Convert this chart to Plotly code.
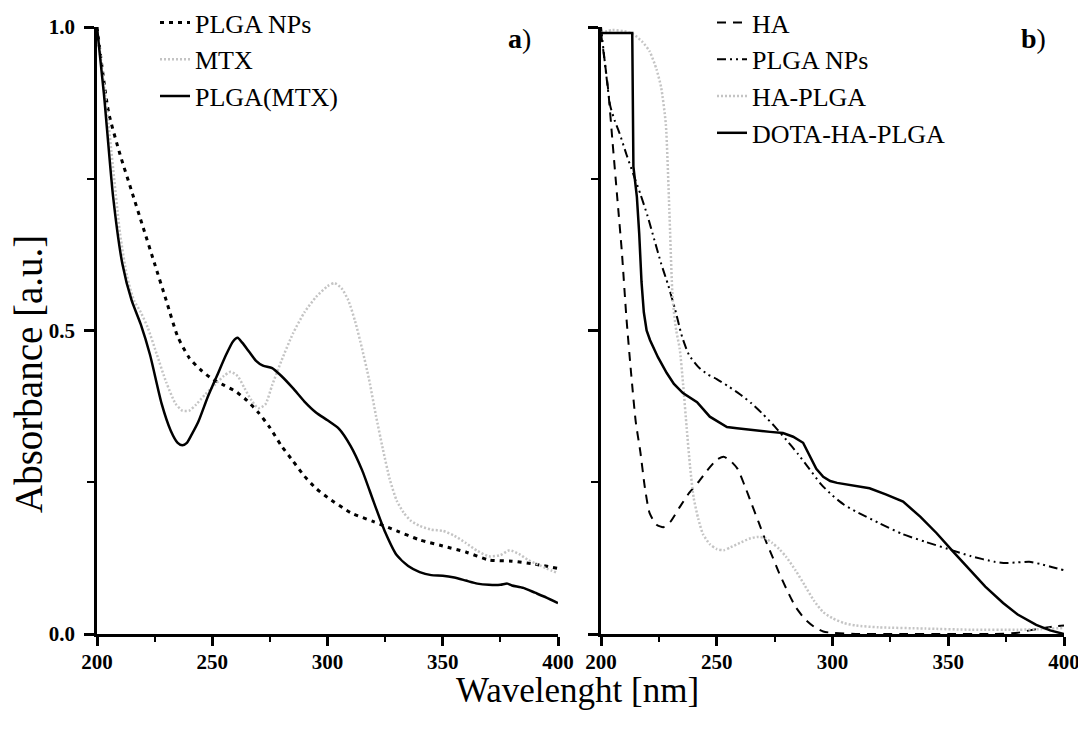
import plotly.graph_objects as go

# ---------------- Panel a data ----------------
a_plga_x = [200, 205, 210, 215, 220, 225, 230, 235, 240, 245, 250, 255, 260, 265, 270, 275, 280, 285,
            290, 295, 300, 310, 320, 330, 340, 350, 360, 370, 380, 390, 400]
a_plga_y = [1.0, 0.86, 0.79, 0.73, 0.67, 0.61, 0.55, 0.49, 0.455, 0.435, 0.42, 0.41, 0.40, 0.385, 0.365,
            0.34, 0.31, 0.285, 0.26, 0.24, 0.225, 0.20, 0.185, 0.17, 0.155, 0.145, 0.135, 0.122, 0.12,
            0.115, 0.108]

a_mtx_x = [200, 205, 210, 213, 216, 219, 222, 226, 230, 234, 237, 240, 243, 247, 251, 255, 258, 261, 264,
           267, 270, 273, 276, 280, 285, 290, 295, 300, 303, 306, 309, 312, 315, 318, 321, 324, 327, 330,
           333, 336, 340, 345, 350, 355, 360, 365, 370, 375, 379, 383, 387, 391, 395, 400]
a_mtx_y = [1.0, 0.84, 0.66, 0.59, 0.55, 0.53, 0.505, 0.46, 0.415, 0.38, 0.368, 0.368, 0.378, 0.395, 0.41,
           0.425, 0.432, 0.425, 0.405, 0.385, 0.372, 0.378, 0.41, 0.45, 0.495, 0.53, 0.555, 0.573, 0.578,
           0.57, 0.55, 0.515, 0.47, 0.42, 0.36, 0.305, 0.255, 0.22, 0.2, 0.187, 0.178, 0.172, 0.17, 0.162,
           0.15, 0.137, 0.128, 0.13, 0.138, 0.132, 0.122, 0.115, 0.108, 0.10]

a_plgamtx_x = [200, 203, 207, 211, 215, 219, 223, 228, 232, 235, 237, 239, 241, 244, 248, 252, 256, 259,
               261, 263, 266, 269, 272, 276, 280, 285, 290, 295, 300, 305, 310, 315, 320, 325, 330, 335,
               340, 345, 350, 355, 360, 365, 370, 375, 378, 380, 385, 390, 395, 400]
a_plgamtx_y = [1.0, 0.89, 0.72, 0.61, 0.55, 0.51, 0.46, 0.38, 0.335, 0.315, 0.311, 0.315, 0.328, 0.35,
               0.39, 0.425, 0.46, 0.482, 0.488, 0.48, 0.465, 0.45, 0.442, 0.438, 0.425, 0.405, 0.383,
               0.365, 0.352, 0.338, 0.31, 0.27, 0.218, 0.168, 0.13, 0.112, 0.102, 0.097, 0.096, 0.093,
               0.088, 0.083, 0.081, 0.081, 0.083, 0.08, 0.076, 0.068, 0.06, 0.051]

# ---------------- Panel b data ----------------
b_ha_x = [200, 203, 205, 207, 209, 211, 213, 215, 217, 219, 221, 224, 227, 230, 234, 238, 242, 246, 250,
          253, 256, 259, 262, 265, 268, 271, 274, 277, 280, 284, 288, 292, 296, 300, 310, 330, 350, 370,
          380, 385, 390, 395, 400]
b_ha_y = [0.99, 0.9, 0.81, 0.72, 0.63, 0.52, 0.43, 0.35, 0.3, 0.24, 0.199, 0.18, 0.176, 0.185, 0.209,
          0.232, 0.25, 0.27, 0.287, 0.292, 0.285, 0.272, 0.245, 0.215, 0.185, 0.155, 0.128, 0.1, 0.075,
          0.045, 0.025, 0.012, 0.004, 0.002, 0.0, 0.0, 0.0, 0.0, 0.002, 0.006, 0.009, 0.012, 0.014]

b_plga_x = [200, 202, 204, 206, 208, 211, 214, 217, 220, 223, 226, 229, 232, 235, 238, 242, 246, 250,
            255, 260, 265, 270, 275, 280, 285, 290, 295, 300, 305, 310, 320, 330, 340, 350, 360, 370,
            375, 380, 385, 390, 395, 400]
b_plga_y = [1.0, 0.93, 0.87, 0.845, 0.825, 0.79, 0.757, 0.725, 0.69, 0.65, 0.61, 0.575, 0.535, 0.49,
            0.46, 0.44, 0.428, 0.42, 0.408, 0.395, 0.38, 0.362, 0.342, 0.32, 0.297, 0.272, 0.247, 0.228,
            0.213, 0.202, 0.183, 0.165, 0.152, 0.14, 0.128, 0.119, 0.117, 0.118, 0.119, 0.115, 0.11,
            0.105]

b_haplga_x = [200, 205, 210, 214, 218, 221, 224, 226, 228, 229.5, 231, 232.5, 234, 235.5, 237, 238.5,
              240, 242, 244, 247, 250, 253, 256, 260, 264, 268, 271, 274, 277, 280, 284, 288, 292, 296,
              300, 305, 310, 320, 340, 360, 380, 390, 400]
b_haplga_y = [0.99, 0.995, 0.993, 0.988, 0.975, 0.96, 0.93, 0.9, 0.84, 0.7, 0.55, 0.5, 0.47, 0.41, 0.34,
              0.275, 0.225, 0.19, 0.165, 0.148, 0.14, 0.138, 0.143, 0.15, 0.157, 0.16, 0.158, 0.15, 0.14,
              0.127, 0.105, 0.08, 0.055, 0.036, 0.026, 0.018, 0.014, 0.011, 0.009, 0.007, 0.007, 0.008,
              0.01]

b_dota_x = [200, 205, 210, 213.5, 214, 215.5, 216.5, 217.5, 218.5, 219.7, 221.2, 224.6, 228.4, 231.5,
            235.4, 241.5, 247, 251.4, 254.4, 258.7, 265, 273, 278.6, 283, 287.3, 290, 293, 296, 299,
            302, 309, 316, 323, 330.5, 338, 345, 352, 359.4, 366, 373.7, 380, 388, 394, 400]
b_dota_y = [0.99, 0.99, 0.99, 0.99, 0.77, 0.72, 0.66, 0.58, 0.53, 0.5, 0.484, 0.456, 0.43, 0.412,
            0.397, 0.382, 0.358, 0.348, 0.341, 0.339, 0.336, 0.333, 0.331, 0.325, 0.315, 0.295, 0.272,
            0.259, 0.252, 0.249, 0.245, 0.24, 0.23, 0.218, 0.193, 0.166, 0.136, 0.105, 0.078, 0.051,
            0.032, 0.015, 0.006, 0.0]

x_ticks = [200, 250, 300, 350, 400]
y_ticks = [0.0, 0.5, 1.0]
y_tick_text = ["0.0", "0.5", "1.0"]

FONT = "Liberation Serif, Times New Roman, serif"
GRAY = "#c4c4c4"

# page body has an 8px margin, so the figure is drawn 8px in from the window edge
OFF = 8
W, H = 1086 - OFF, 735 - 2 * OFF


def px(x):
    return (x - OFF) / W


def py(y):
    return 1 - (y - OFF) / H


fig = go.Figure()


def add(x, y, name, color, dash, width, xa, ya, legend, shape="spline"):
    fig.add_trace(go.Scatter(
        x=x, y=y, name=name, mode="lines",
        line=dict(color=color, dash=dash, width=width, shape=shape, smoothing=0.6),
        xaxis=xa, yaxis=ya, legend=legend))


add(a_plga_x, a_plga_y, "PLGA NPs", "black", "4px,5px", 3, "x", "y", "legend")
add(a_mtx_x, a_mtx_y, "MTX", GRAY, "2px,2px", 2.5, "x", "y", "legend")
add(a_plgamtx_x, a_plgamtx_y, "PLGA(MTX)", "black", "solid", 2.5, "x", "y", "legend")

add(b_ha_x, b_ha_y, "HA", "black", "9px,7px", 2, "x2", "y2", "legend2")
add(b_plga_x, b_plga_y, "PLGA NPs", "black", "9px,4px,2px,4px,2px,4px", 2, "x2", "y2", "legend2")
add(b_haplga_x, b_haplga_y, "HA-PLGA", GRAY, "2px,2px", 2.5, "x2", "y2", "legend2")
add(b_dota_x, b_dota_y, "DOTA-HA-PLGA", "black", "solid", 2.5, "x2", "y2", "legend2", shape="linear")

xdom_a = [px(97), px(558)]
xdom_b = [px(601), px(1064)]
ydom = [py(634), py(27)]

xaxis_common = dict(
    range=[200, 400], tickvals=x_ticks, ticks="outside", ticklen=9, tickwidth=2.5,
    tickcolor="black", showline=True, linecolor="black", linewidth=2.5,
    showgrid=False, zeroline=False, automargin=False, ticklabeloverflow="allow",
    tickfont=dict(family=FONT, size=21, color="black", weight="bold"),
    ticklabelstandoff=-2,
    minor=dict(dtick=25, tick0=200, ticks="outside", ticklen=5, tickwidth=2, tickcolor="black",
               showgrid=False),
)
yaxis_common = dict(
    range=[0, 1.0], tickvals=y_ticks, ticktext=y_tick_text, ticks="outside", ticklen=10,
    tickwidth=2.5, tickcolor="black", showline=True, linecolor="black", linewidth=2.5,
    showgrid=False, zeroline=False, automargin=False,
    tickfont=dict(family=FONT, size=21, color="black", weight="bold"),
    ticklabelstandoff=5,
    minor=dict(dtick=0.25, tick0=0, ticks="outside", ticklen=7, tickwidth=2, tickcolor="black",
               showgrid=False),
)

fig.update_layout(
    width=W, height=H,
    margin=dict(l=0, r=0, t=0, b=0, autoexpand=False),
    paper_bgcolor="white", plot_bgcolor="white",
    font=dict(family=FONT, color="black"),
    xaxis=dict(domain=xdom_a, anchor="y", **xaxis_common),
    yaxis=dict(domain=ydom, anchor="x", **yaxis_common),
    xaxis2=dict(domain=xdom_b, anchor="y2", **xaxis_common),
    yaxis2=dict(domain=ydom, anchor="x2", showticklabels=False, **yaxis_common),
    legend=dict(x=px(155), y=py(-1), xanchor="left", yanchor="top",
                font=dict(family=FONT, size=26, color="black"), bgcolor="rgba(0,0,0,0)",
                tracegroupgap=0, itemwidth=30),
    legend2=dict(x=px(712), y=py(-1), xanchor="left", yanchor="top",
                 font=dict(family=FONT, size=26, color="black"), bgcolor="rgba(0,0,0,0)",
                 tracegroupgap=0, itemwidth=30),
    showlegend=True,
    annotations=[
        dict(text="<b>a</b>)", x=px(519), y=py(39), xref="paper", yref="paper",
             xanchor="center", yanchor="middle",
             showarrow=False, font=dict(family=FONT, size=28, color="black")),
        dict(text="<b>b</b>)", x=px(1033), y=py(39), xref="paper", yref="paper",
             xanchor="center", yanchor="middle",
             showarrow=False, font=dict(family=FONT, size=28, color="black")),
        dict(text="Absorbance [a.u.]", x=px(28), y=py(374), xref="paper", yref="paper",
             xanchor="center", yanchor="middle",
             textangle=-90, showarrow=False, font=dict(family=FONT, size=39, color="black")),
        dict(text="Wavelenght [nm]", x=px(577), y=py(690), xref="paper", yref="paper",
             xanchor="center", yanchor="middle",
             showarrow=False, font=dict(family=FONT, size=35, color="black")),
    ],
)

fig.write_html("out.html")
